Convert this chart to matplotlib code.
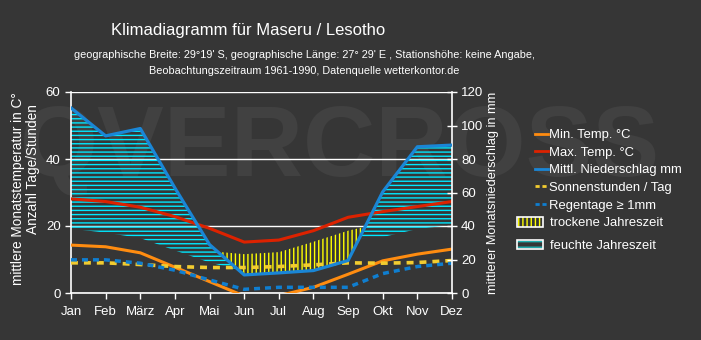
import numpy as np
import matplotlib
matplotlib.use("Agg")
import matplotlib.pyplot as plt
from matplotlib.lines import Line2D
from matplotlib.patches import Patch

plt.rcParams['font.family'] = ['Liberation Sans', 'DejaVu Sans']
plt.rcParams['hatch.linewidth'] = 1.0
plt.rcParams['lines.scale_dashes'] = False

# monthly values
months = ['Jan', 'Feb', 'März', 'Apr', 'Mai', 'Jun', 'Jul', 'Aug', 'Sep', 'Okt', 'Nov', 'Dez']
t_min = [14.3, 13.8, 12.0, 7.7, 3.4, -0.9, -0.8, 1.7, 5.6, 9.6, 11.6, 13.1]
t_max = [28.1, 27.3, 25.6, 22.8, 19.3, 15.2, 15.8, 18.6, 22.6, 24.3, 25.8, 27.3]
precip = [110.5, 93.8, 98.2, 62.7, 28.9, 10.8, 12.0, 13.4, 19.4, 60.4, 87.3, 88.3]
sun_hours = [9.0, 9.0, 8.5, 7.9, 7.6, 7.6, 7.9, 8.4, 9.0, 8.9, 9.1, 9.7]
rain_days = [9.9, 9.9, 8.9, 6.8, 3.9, 1.1, 1.7, 1.7, 1.7, 5.8, 7.9, 8.9]
# edges of the hatched seasons (in °C units), read from the hatching
wet_edge = [19.2, 18.0, 16.4, 12.7, 9.1, 6.5, 8.0, 12.0, 16.0, 16.7, 19.1, 20.3]
dry_edge = [20.0, 19.0, 17.0, 14.5, 12.5, 11.6, 12.2, 15.3, 18.6, 21.0, 22.0, 23.0]

BG = '#363636'
WHITE = '#ffffff'
C_MIN = '#ff8c10'
C_MAX = '#dd2200'
C_PREC = '#1a86d6'
C_SUN = '#f2cc30'
C_RAIN = '#0f7ed0'
C_WET = '#00e8ff'
C_DRY = '#ffff00'

fig = plt.figure(figsize=(7.01, 3.40), dpi=100, facecolor=BG)
ax = fig.add_axes([71 / 701, 1 - 293 / 340, 381 / 701, 201 / 340])
ax.set_facecolor('none')

# faint watermark, sized to span the chart width
wm = fig.text(340 / 701, 1 - 150 / 340, 'QVERCROSS', ha='center', va='center',
              fontsize=80, fontweight='bold', color='#414141', zorder=-5)
fig.canvas.draw()
w = wm.get_window_extent().width
wm.set_fontsize(80 * 640 / w)

x = np.arange(len(months))
p_half = np.array(precip) / 2.0
wet = np.array(wet_edge)
dry = np.array(dry_edge)

ax.fill_between(x, wet, p_half, where=p_half > wet, interpolate=True,
                facecolor='none', edgecolor=C_WET, hatch='----', linewidth=0, zorder=1)
ax.fill_between(x, p_half, dry, where=dry > p_half, interpolate=True,
                facecolor='none', edgecolor=C_DRY, hatch='||||', linewidth=0, zorder=1)

ax.plot(x, t_min, color=C_MIN, lw=2.2, zorder=3)
ax.plot(x, t_max, color=C_MAX, lw=2.2, zorder=3)
ax.plot(x, sun_hours, color=C_SUN, lw=2.6, dashes=(5, 4.3), zorder=4)
ax.plot(x, rain_days, color=C_RAIN, lw=2.5, dashes=(4.3, 3.6), zorder=4)

ax.set_xlim(0, 11)
ax.set_ylim(0, 60)
ax.set_yticks([0, 20, 40, 60])
ax.set_xticks(x)
ax.set_xticklabels(months)
ax.yaxis.grid(True, color=WHITE, lw=1.0)
ax.set_axisbelow(True)
for s in ['top', 'right']:
    ax.spines[s].set_visible(False)
for s in ['left', 'bottom']:
    ax.spines[s].set_color(WHITE)
    ax.spines[s].set_linewidth(1.2)
ax.tick_params(colors=WHITE, labelsize=9.5, length=4.5, width=1, pad=3)
ax.tick_params(axis='x', pad=5)

ax2 = ax.twinx()
ax2.plot(x, precip, color=C_PREC, lw=2.3, zorder=5)
ax2.set_ylim(0, 120)
ax2.set_yticks(range(0, 121, 20))
for s in ['top', 'left', 'bottom']:
    ax2.spines[s].set_visible(False)
ax2.spines['right'].set_color(WHITE)
ax2.spines['right'].set_linewidth(1.2)
ax2.tick_params(colors=WHITE, labelsize=9.5, direction='inout', length=7, width=1, pad=3)

# titles and axis labels
fig.text(248 / 701, 1 - 30 / 340, 'Klimadiagramm für Maseru / Lesotho',
         ha='center', va='center', fontsize=12, color=WHITE)
fig.text(304 / 701, 1 - 55 / 340,
         "geographische Breite: 29°19' S, geographische Länge: 27° 29' E , Stationshöhe: keine Angabe,",
         ha='center', va='center', fontsize=7.8, color=WHITE)
fig.text(304 / 701, 1 - 71 / 340, 'Beobachtungszeitraum 1961-1990, Datenquelle wetterkontor.de',
         ha='center', va='center', fontsize=7.8, color=WHITE)
fig.text(18 / 701, 1 - 189 / 340, 'mittlere Monatstemperatur in C°', rotation=90,
         ha='center', va='center', fontsize=9.8, color=WHITE)
fig.text(33 / 701, 1 - 169 / 340, 'Anzahl Tage/Stunden', rotation=90,
         ha='center', va='center', fontsize=9.8, color=WHITE)
fig.text(493 / 701, 1 - 193 / 340, 'mittlerer Monatsniederschlag in mm', rotation=90,
         ha='center', va='center', fontsize=9.2, color=WHITE)

# legends
line_handles = [
    Line2D([], [], color=C_MIN, lw=2),
    Line2D([], [], color=C_MAX, lw=2),
    Line2D([], [], color=C_PREC, lw=2),
    Line2D([], [], color=C_SUN, lw=2, dashes=(3, 2)),
    Line2D([], [], color=C_RAIN, lw=2, dashes=(3, 2)),
]
line_labels = ['Min. Temp. °C', 'Max. Temp. °C', 'Mittl. Niederschlag mm',
               'Sonnenstunden / Tag', 'Regentage ≥ 1mm']
fig.legend(line_handles, line_labels, loc='upper left',
           bbox_to_anchor=(535 / 701, 1 - 129 / 340), frameon=False,
           fontsize=9.4, handlelength=1.0, handletextpad=0.1,
           labelspacing=0.42, borderpad=0, borderaxespad=0, labelcolor=WHITE)

season_handles = [
    (Patch(facecolor='none', edgecolor=C_DRY, hatch='||||', lw=0),
     Patch(facecolor='none', edgecolor=WHITE, lw=1.2)),
    (Patch(facecolor='none', edgecolor='#20b0b0', hatch='---', lw=0),
     Patch(facecolor='none', edgecolor=WHITE, lw=1.2)),
]
fig.legend(season_handles, ['trockene Jahreszeit', 'feuchte Jahreszeit'],
           loc='upper left', bbox_to_anchor=(517 / 701, 1 - 217 / 340),
           frameon=False, fontsize=9.4, handlelength=2.0, handleheight=0.75,
           handletextpad=0.55, labelspacing=0.8, borderpad=0,
           borderaxespad=0, labelcolor=WHITE)

fig.savefig('out.png', dpi=100, facecolor=BG)
